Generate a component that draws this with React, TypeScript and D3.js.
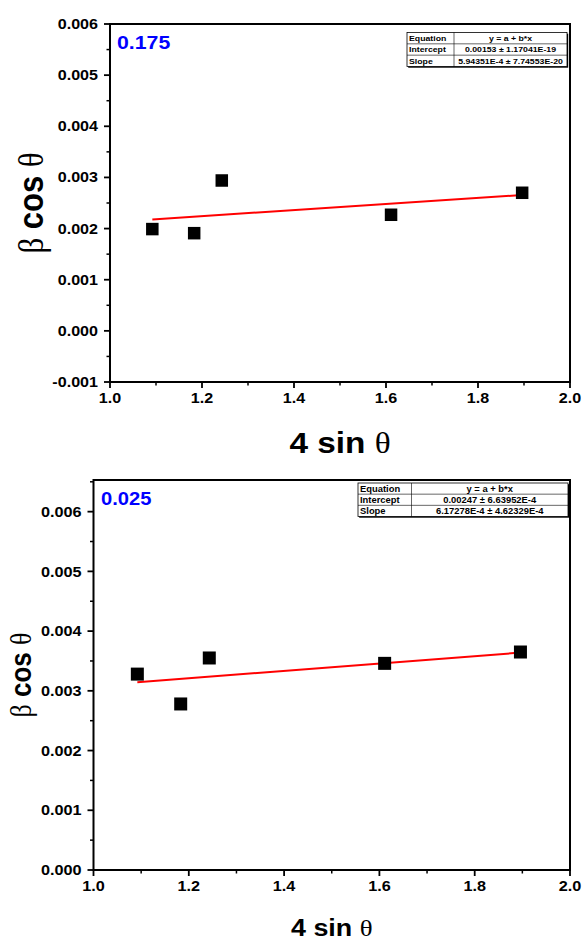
import React from 'react';
import * as d3 from 'd3';

// ---- data ----
const xValues = [1.092, 1.183, 1.243, 1.611, 1.896];
const topYValues = [0.00199, 0.00191, 0.00294, 0.00227, 0.0027];
const bottomYValues = [0.00328, 0.00278, 0.00355, 0.00346, 0.00365];
const topFit = [0.00153, 5.94351e-4];
const bottomFit = [0.00247, 6.17278e-4];
const xTicks = [1.0, 1.2, 1.4, 1.6, 1.8, 2.0];
const xMinorTicks = [1.1, 1.3, 1.5, 1.7, 1.9];
const topYTicks = [-0.001, 0, 0.001, 0.002, 0.003, 0.004, 0.005, 0.006];
const topYMinor = [-0.0005, 0.0005, 0.0015, 0.0025, 0.0035, 0.0045, 0.0055];
const bottomYTicks = [0, 0.001, 0.002, 0.003, 0.004, 0.005, 0.006];
const bottomYMinor = [0.0005, 0.0015, 0.0025, 0.0035, 0.0045, 0.0055, 0.0065];
const topTableRows = [
  ['Equation', 'y = a + b*x'],
  ['Intercept', '0.00153 ± 1.17041E-19'],
  ['Slope', '5.94351E-4 ± 7.74553E-20'],
];
const bottomTableRows = [
  ['Equation', 'y = a + b*x'],
  ['Intercept', '0.00247 ± 6.63952E-4'],
  ['Slope', '6.17278E-4 ± 4.62329E-4'],
];
const topTag = '0.175';
const bottomTag = '0.025';

const FONT = "'Liberation Sans', Arial, sans-serif";
const SERIF = "'Liberation Serif', 'Times New Roman', serif";

function T(props: any) {
  const { x, y, s = 1, rot = 0, anchor = 'start', size, weight = 'bold', fill = '#000', children } = props;
  return (
    <text
      transform={`translate(${x},${y}) scale(${s},1) rotate(${rot})`}
      textAnchor={anchor}
      fontSize={size}
      fontWeight={weight}
      fontFamily={FONT}
      fill={fill}
    >
      {children}
    </text>
  );
}

function Panel(props: any) {
  const {
    left, right, top, bottom, yDomain, yTicks, yMinor, yVals, fit, rows, tag,
    s, tickSize, tagPos, tagSize, yLabel, xLabel, table, marker,
  } = props;
  const x = d3.scaleLinear().domain([1, 2]).range([left, right]);
  const y = d3.scaleLinear().domain(yDomain).range([bottom, top]);
  const f3 = d3.format('.3f');
  const fmtY = (v: number) => f3(v).replace('\u2212', '-');
  const fmtX = d3.format('.1f');
  const x0 = d3.min(xValues) as number;
  const x1 = d3.max(xValues) as number;
  const line = d3.line<number>().x((d) => x(d)).y((d) => y(fit[0] + fit[1] * d));
  const rowH = (table.bottom - table.top) / rows.length;
  return (
    <g>
      <rect x={left} y={top} width={right - left} height={bottom - top} fill="none" stroke="#000" strokeWidth={2} />
      {yTicks.map((t: number) => (
        <g key={'y' + t}>
          <line x1={left - 6} x2={left} y1={y(t)} y2={y(t)} stroke="#000" strokeWidth={1.8} />
          <T x={left - 12} y={y(t) + tickSize * 0.36} s={s} anchor="end" size={tickSize}>
            {fmtY(t)}
          </T>
        </g>
      ))}
      {yMinor.map((t: number) => (
        <line key={'ym' + t} x1={left - 3.5} x2={left} y1={y(t)} y2={y(t)} stroke="#000" strokeWidth={1.5} />
      ))}
      {xTicks.map((t: number) => (
        <g key={'x' + t}>
          <line x1={x(t)} x2={x(t)} y1={bottom} y2={bottom + 6} stroke="#000" strokeWidth={1.8} />
          <T x={x(t)} y={bottom + 21} s={s} anchor="middle" size={tickSize}>
            {fmtX(t)}
          </T>
        </g>
      ))}
      {xMinorTicks.map((t: number) => (
        <line key={'xm' + t} x1={x(t)} x2={x(t)} y1={bottom} y2={bottom + 3.5} stroke="#000" strokeWidth={1.5} />
      ))}
      <path d={line([x0, x1]) as string} fill="none" stroke="#ff0000" strokeWidth={2} />
      {xValues.map((xv, i) => (
        <rect key={'p' + i} x={x(xv) - marker / 2} y={y(yVals[i]) - marker / 2} width={marker} height={marker} fill="#000" />
      ))}
      <T x={tagPos[0]} y={tagPos[1]} s={s} size={tagSize} fill="#0000ff">
        {tag}
      </T>
      {/* fit table */}
      <rect x={table.left + 1.2} y={table.top + 1.2} width={table.right - table.left} height={table.bottom - table.top} fill="#000" />
      <rect x={table.left} y={table.top} width={table.right - table.left} height={table.bottom - table.top} fill="#fff" stroke="#000" strokeWidth={0.8} />
      <line x1={table.split} x2={table.split} y1={table.top} y2={table.bottom} stroke="#000" strokeWidth={0.6} />
      {rows.map((r: string[], i: number) => (
        <g key={'r' + i}>
          {i > 0 && (
            <line x1={table.left} x2={table.right} y1={table.top + i * rowH} y2={table.top + i * rowH} stroke="#000" strokeWidth={0.6} />
          )}
          <T x={table.left + 2} y={table.top + i * rowH + rowH * 0.5 + table.font * 0.36} s={s} size={table.font}>
            {r[0]}
          </T>
          <T x={(table.split + table.right) / 2} y={table.top + i * rowH + rowH * 0.5 + table.font * 0.36} s={s} anchor="middle" size={table.font}>
            {r[1]}
          </T>
        </g>
      ))}
      {/* axis titles */}
      <text
        transform={`translate(${yLabel.x},${(top + bottom) / 2 + yLabel.dy}) scale(${s},1) rotate(-90)`}
        textAnchor="middle"
        fontSize={yLabel.size}
        fontFamily={FONT}
        fontWeight="bold"
      >
        <tspan fontFamily={SERIF} fontWeight="normal">β</tspan>
        <tspan> cos </tspan>
        <tspan fontFamily={SERIF} fontWeight="normal">θ</tspan>
      </text>
      <text
        transform={`translate(${(left + right) / 2},${xLabel.y}) scale(${s},1)`}
        textAnchor="middle"
        fontSize={xLabel.size}
        fontFamily={FONT}
        fontWeight="bold"
      >
        <tspan>4 sin </tspan>
        <tspan fontFamily={SERIF} fontWeight="normal">θ</tspan>
      </text>
    </g>
  );
}

export default function App() {
  return (
    <svg width={583} height={943} style={{ position: 'absolute', left: 0, top: 0, background: '#fff' }}>
      <rect width={583} height={943} fill="#fff" />
      <Panel
        left={110}
        right={570}
        top={24}
        bottom={382}
        yDomain={[-0.001, 0.006]}
        yTicks={topYTicks}
        yMinor={topYMinor}
        yVals={topYValues}
        fit={topFit}
        rows={topTableRows}
        tag={topTag}
        s={1.15}
        tickSize={14}
        tagPos={[117, 48.5]}
        tagSize={18.5}
        yLabel={{ x: 43, dy: 0, size: 31 }}
        xLabel={{ y: 453, size: 29 }}
        table={{ left: 407, right: 567, top: 32.5, bottom: 66.5, split: 454, font: 7.6 }}
        marker={12.5}
      />
      <Panel
        left={93.5}
        right={570}
        top={480}
        bottom={870}
        yDomain={[0, 0.00653]}
        yTicks={bottomYTicks}
        yMinor={bottomYMinor}
        yVals={bottomYValues}
        fit={bottomFit}
        rows={bottomTableRows}
        tag={bottomTag}
        s={1.12}
        tickSize={14.5}
        tagPos={[101, 505]}
        tagSize={18}
        yLabel={{ x: 31, dy: 0, size: 26 }}
        xLabel={{ y: 936, size: 24 }}
        table={{ left: 358, right: 568, top: 483, bottom: 516.5, split: 411.5, font: 8.4 }}
        marker={13}
      />
    </svg>
  );
}
